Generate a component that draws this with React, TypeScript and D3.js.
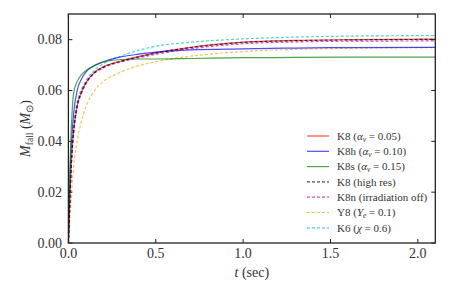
import React from "react";
import * as d3 from "d3";

const times = [0, 0.005, 0.01, 0.02, 0.03, 0.05, 0.075, 0.1, 0.15, 0.2, 0.3, 0.4, 0.5, 0.7, 1.0, 1.3, 1.6, 2.1];

const k8 = [0, 0.01, 0.02, 0.035, 0.044, 0.054, 0.0595, 0.063, 0.0672, 0.0693, 0.0716, 0.0733, 0.0748, 0.0770, 0.0790, 0.0797, 0.0800, 0.0802];
const k8h = [0, 0.015, 0.028, 0.042, 0.051, 0.060, 0.0645, 0.0672, 0.0698, 0.0713, 0.0732, 0.0743, 0.0751, 0.0760, 0.0764, 0.0767, 0.0769, 0.0770];
const k8s = [0, 0.018, 0.032, 0.05, 0.059, 0.0635, 0.0662, 0.0678, 0.0699, 0.0712, 0.0722, 0.0724, 0.0724, 0.0726, 0.0729, 0.0730, 0.0731, 0.0731];
const k8hr = [0, 0.01, 0.02, 0.035, 0.044, 0.054, 0.0595, 0.063, 0.0671, 0.0692, 0.0715, 0.0732, 0.0747, 0.0769, 0.0789, 0.0796, 0.0799, 0.0801];
const k8n = [0, 0.009, 0.019, 0.034, 0.043, 0.053, 0.0588, 0.0625, 0.0668, 0.0689, 0.0712, 0.0728, 0.0742, 0.0764, 0.0784, 0.0791, 0.0794, 0.0795];
const y8 = [0, 0.005, 0.011, 0.022, 0.030, 0.040, 0.048, 0.0535, 0.0600, 0.0635, 0.0672, 0.0697, 0.0713, 0.0735, 0.0753, 0.0762, 0.0766, 0.0769];
const k6 = [0, 0.011, 0.022, 0.037, 0.046, 0.0555, 0.0605, 0.0638, 0.0680, 0.0706, 0.0735, 0.0758, 0.0774, 0.0790, 0.0803, 0.0810, 0.0814, 0.0816];

const seriesNames = [
  "K8 (α_ν = 0.05)",
  "K8h (α_ν = 0.10)",
  "K8s (α_ν = 0.15)",
  "K8 (high res)",
  "K8n (irradiation off)",
  "Y8 (Y_e = 0.1)",
  "K6 (χ = 0.6)",
];
const seriesValues = [k8, k8h, k8s, k8hr, k8n, y8, k6];
const seriesColors = ["#ff0000", "#0000ff", "#008000", "#000000", "#bf00bf", "#ffa500", "#00bfbf"];
const seriesDashed = [false, false, false, true, true, true, true];

const xTicks = [0, 0.5, 1.0, 1.5, 2.0];
const yTicks = [0, 0.02, 0.04, 0.06, 0.08];

const W = 458, H = 286;
const L = 68.4, R = 435.3, T = 14, B = 243;

function Label({ text }: { text: string }) {
  const m = text.match(/^(\S+) \((.*)\)$/);
  if (!m) return <>{text}</>;
  const inner = m[2];
  const parts: React.ReactNode[] = [];
  const re = /(α|Y|χ)(_([νe]))?/;
  const mm = inner.match(re);
  if (mm && mm.index !== undefined) {
    const before = inner.slice(0, mm.index);
    const after = inner.slice(mm.index + mm[0].length);
    parts.push(before);
    parts.push(<tspan key="v" fontStyle="italic">{mm[1]}</tspan>);
    if (mm[3]) parts.push(<tspan key="s" fontStyle="italic" fontSize="7.5" dy="2">{mm[3]}</tspan>);
    parts.push(<tspan key="a" dy={mm[3] ? -2 : 0}>{after}</tspan>);
  } else {
    parts.push(inner);
  }
  return <>{m[1]} ({parts})</>;
}

export default function App() {
  const x = d3.scaleLinear().domain([0, 2.1]).range([L, R]);
  const y = d3.scaleLinear().domain([0, 0.0901]).range([B, T]);
  const line = d3
    .line<number>()
    .x((_, i) => x(times[i]))
    .y((d) => y(d))
    .curve(d3.curveMonotoneX);

  const font = '"Liberation Serif", serif';
  const order = [5, 6, 0, 1, 2, 4, 3];

  return (
    <svg width={W} height={H} style={{ position: "absolute", left: 0, top: 0, fontFamily: font }}>
      <rect width={W} height={H} fill="white" />
      <defs>
        <clipPath id="plot">
          <rect x={L} y={T} width={R - L} height={B - T} />
        </clipPath>
      </defs>
      <g clipPath="url(#plot)">
        {order.map((i) => (
          <path
            key={i}
            d={line(seriesValues[i]) || ""}
            fill="none"
            stroke={seriesColors[i]}
            strokeOpacity={0.7}
            strokeWidth={1.2}
            strokeDasharray={seriesDashed[i] ? "3,2" : undefined}
          />
        ))}
      </g>
      {xTicks.map((t) => (
        <g key={"x" + t}>
          <line x1={x(t)} x2={x(t)} y1={B} y2={B - 4} stroke="#222" strokeWidth={1} />
          <line x1={x(t)} x2={x(t)} y1={T} y2={T + 4} stroke="#222" strokeWidth={1} />
          <text x={x(t)} y={258} textAnchor="middle" fontSize={14} fill="#333">
            {t.toFixed(1)}
          </text>
        </g>
      ))}
      {yTicks.map((t) => (
        <g key={"y" + t}>
          <line x1={L} x2={L + 4} y1={y(t)} y2={y(t)} stroke="#222" strokeWidth={1} />
          <line x1={R} x2={R - 4} y1={y(t)} y2={y(t)} stroke="#222" strokeWidth={1} />
          <text x={62} y={y(t) + 4.5} textAnchor="end" fontSize={14} fill="#333">
            {t.toFixed(2)}
          </text>
        </g>
      ))}
      <rect x={L} y={T} width={R - L} height={B - T} fill="none" stroke="#222" strokeWidth={1.3} />
      <text x={(L + R) / 2} y={277} textAnchor="middle" fontSize={14} fill="#333">
        <tspan fontStyle="italic">t</tspan> (sec)
      </text>
      <text transform={`translate(30,${(T + B) / 2}) rotate(-90)`} textAnchor="middle" fontSize={14} fill="#333">
        <tspan fontStyle="italic">M</tspan>
        <tspan fontSize={9.5} dy={3}>fall</tspan>
        <tspan dy={-3}> (</tspan>
        <tspan fontStyle="italic">M</tspan>
        <tspan fontSize={9.5} dy={3}>⊙</tspan>
        <tspan dy={-3}>)</tspan>
      </text>
      {seriesNames.map((n, i) => {
        const cy = 136 + i * 15.3;
        return (
          <g key={n}>
            <line
              x1={307}
              x2={329}
              y1={cy}
              y2={cy}
              stroke={seriesColors[i]}
              strokeOpacity={0.7}
              strokeWidth={1.2}
              strokeDasharray={seriesDashed[i] ? "3,2" : undefined}
            />
            <text x={337} y={cy + 3.7} fontSize={11} fill="#333">
              <Label text={n} />
            </text>
          </g>
        );
      })}
    </svg>
  );
}
